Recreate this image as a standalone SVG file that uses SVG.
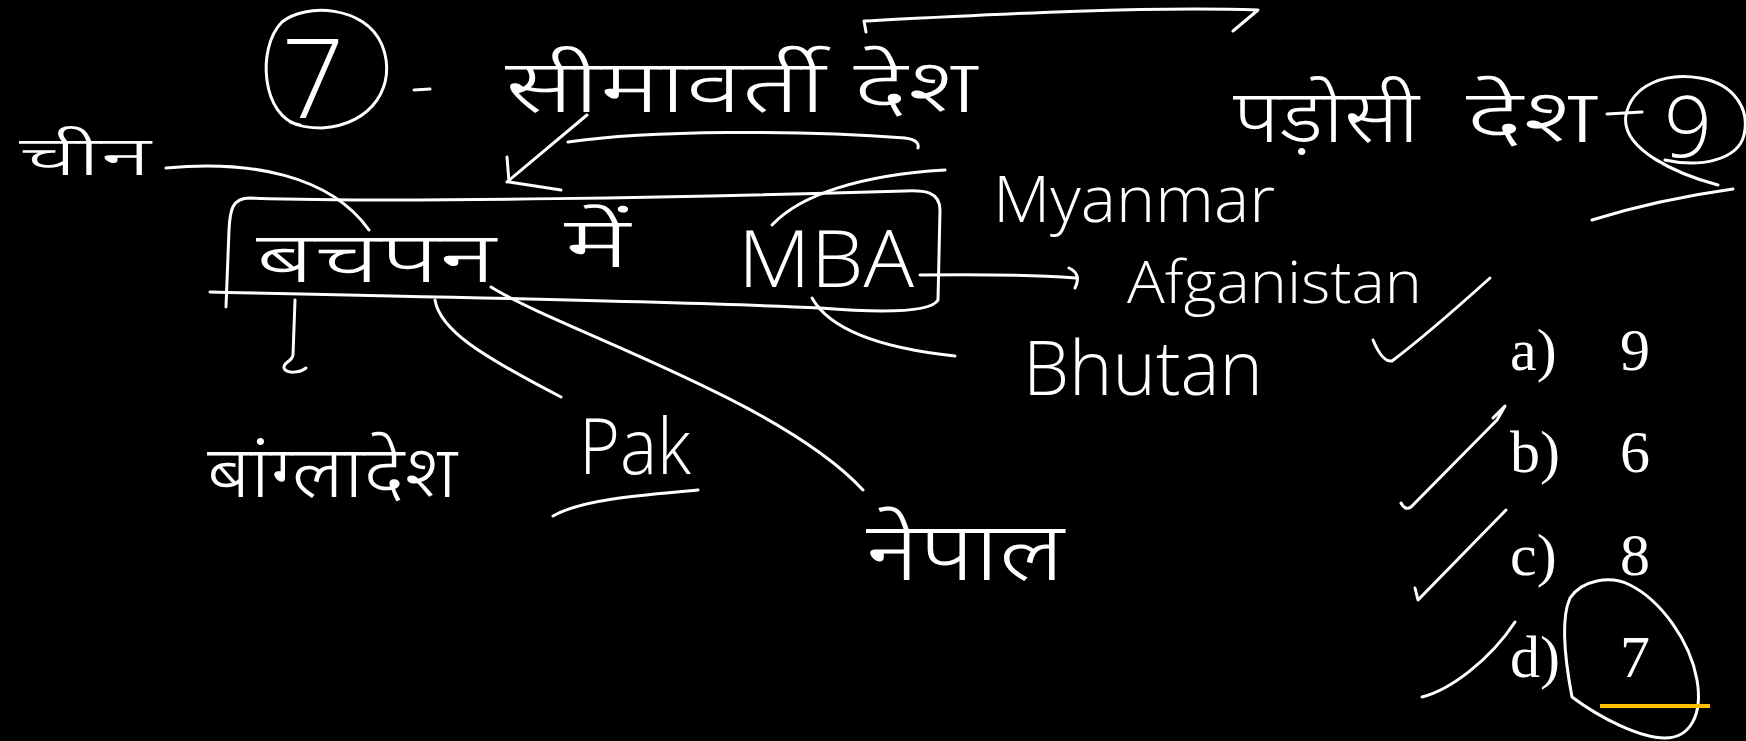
<svg xmlns="http://www.w3.org/2000/svg" width="1746" height="741" viewBox="0 0 1746 741">
<style>
.hw{fill:none;stroke:#fff;stroke-width:3;stroke-linecap:round;stroke-linejoin:round}
.hi{font-family:'Noto Sans Devanagari','Lohit Devanagari','Noto Sans','DejaVu Sans',sans-serif;font-weight:300;fill:#fff}
.en{font-family:'Open Sans','Liberation Sans',sans-serif;font-weight:300;fill:#fff}
.opt{font-family:'Liberation Serif','Times New Roman',serif;font-size:60px;fill:#fff}
</style>
<rect width="1746" height="741" fill="#000"/>

<g id="heading-bordering">
  <path class="hw" d="M300,125 C262,118 256,48 282,22 C305,3 365,5 382,45 C398,85 372,125 322,128 C310,128 298,126 290,122"/>
  <text class="en" x="313" y="118" font-size="110" text-anchor="middle">7</text>
  <path class="hw" d="M414,90 L430,89"/>
  <text class="hi" x="505" y="112" font-size="74" textLength="472" lengthAdjust="spacingAndGlyphs">सीमावर्ती देश</text>
</g>

<g id="heading-neighbour">
  <text class="hi" x="1233" y="142" font-size="74" textLength="186" lengthAdjust="spacingAndGlyphs">पड़ोसी</text>
  <text class="hi" x="1466" y="142" font-size="74" textLength="130" lengthAdjust="spacingAndGlyphs">देश</text>
  <path class="hw" d="M1607,114 L1642,112"/>
  <path class="hw" d="M1718,185 C1680,175 1620,150 1626,115 C1632,85 1665,72 1700,78 C1735,84 1750,110 1744,135 C1738,160 1700,168 1665,160"/>
  <text class="en" x="1688" y="157" font-size="84" text-anchor="middle">9</text>
  <path class="hw" d="M1592,220 C1640,205 1690,195 1733,189"/>
</g>

<g id="china"><text class="hi" x="19" y="175" font-size="55" textLength="132" lengthAdjust="spacingAndGlyphs">चीन</text></g>

<g id="mnemonic-box">
  <path class="hw" d="M210,292 C400,296 700,302 820,308 C870,312 930,314 938,300 L940,210 C940,192 925,190 905,191 C700,197 400,203 250,198 C232,198 230,210 229,230 L226,307"/>
  <text class="hi" x="256" y="282" font-size="70" textLength="240" lengthAdjust="spacingAndGlyphs">बचपन</text>
  <text class="hi" x="564" y="267" font-size="70" textLength="66" lengthAdjust="spacingAndGlyphs">में</text>
  <text class="en" x="738" y="287" font-size="80" textLength="176" lengthAdjust="spacingAndGlyphs">MBA</text>
</g>

<g id="myanmar"><text class="en" x="993" y="222" font-size="64" textLength="282" lengthAdjust="spacingAndGlyphs">Myanmar</text></g>
<g id="afganistan"><text class="en" x="1127" y="303" font-size="58" textLength="295" lengthAdjust="spacingAndGlyphs">Afganistan</text></g>
<g id="bhutan"><text class="en" x="1023" y="395" font-size="75" textLength="240" lengthAdjust="spacingAndGlyphs">Bhutan</text></g>
<g id="bangladesh"><text class="hi" x="207" y="497" font-size="72" textLength="250" lengthAdjust="spacingAndGlyphs">बांग्लादेश</text></g>
<g id="pak">
  <text class="en" x="579" y="474" font-size="78" textLength="112" lengthAdjust="spacingAndGlyphs">Pak</text>
  <path class="hw" d="M553,516 C580,500 640,495 698,490"/>
</g>
<g id="nepal"><text class="hi" x="866" y="580" font-size="82" textLength="198" lengthAdjust="spacingAndGlyphs">नेपाल</text></g>

<g id="options">
  <text class="opt" x="1510" y="370">a)</text><text class="opt" x="1620" y="370">9</text>
  <text class="opt" x="1510" y="472">b)</text><text class="opt" x="1620" y="472">6</text>
  <text class="opt" x="1510" y="575">c)</text><text class="opt" x="1620" y="575">8</text>
  <text class="opt" x="1510" y="677">d)</text><text class="opt" x="1620" y="677">7</text>
  <path class="hw" d="M1373,340 C1378,352 1385,362 1392,361 C1420,340 1460,305 1490,278"/>
  <path class="hw" d="M1401,503 Q1405,511 1411,507 L1497,420 L1505,406 L1493,418"/>
  <path class="hw" d="M1415,588 L1418,600 L1506,510"/>
  <path class="hw" d="M1422,697 C1450,690 1490,660 1515,622"/>
  <path class="hw" d="M1572,697 C1565,660 1560,620 1570,598 C1582,580 1610,575 1630,585 C1660,600 1690,640 1697,680 C1703,715 1690,738 1665,738 C1640,738 1600,718 1572,697"/>
  <path d="M1600,706 L1710,706" stroke="#FFC000" stroke-width="4" fill="none"/>
</g>

<g id="connectors">
  <path class="hw" d="M866,32 L864,21 C1000,14 1150,6 1258,10 L1233,31"/>
  <path class="hw" d="M918,148 Q920,140 905,138 C800,130 650,130 568,142"/>
  <path class="hw" d="M587,115 L507,182 M507,157 L509,182 L561,190"/>
  <path class="hw" d="M166,168 C250,160 330,175 369,230"/>
  <path class="hw" d="M772,225 C800,195 860,175 945,170"/>
  <path class="hw" d="M812,298 C830,330 880,348 955,356"/>
  <path class="hw" d="M920,275 C980,274 1030,275 1076,278 M1069,268 Q1082,274 1075,288"/>
  <path class="hw" d="M295,300 L293,355 C292,362 283,362 284,368 C286,374 300,373 306,368"/>
  <path class="hw" d="M435,300 C440,330 480,355 561,397"/>
  <path class="hw" d="M491,287 C560,330 780,400 863,490"/>
</g>
</svg>
